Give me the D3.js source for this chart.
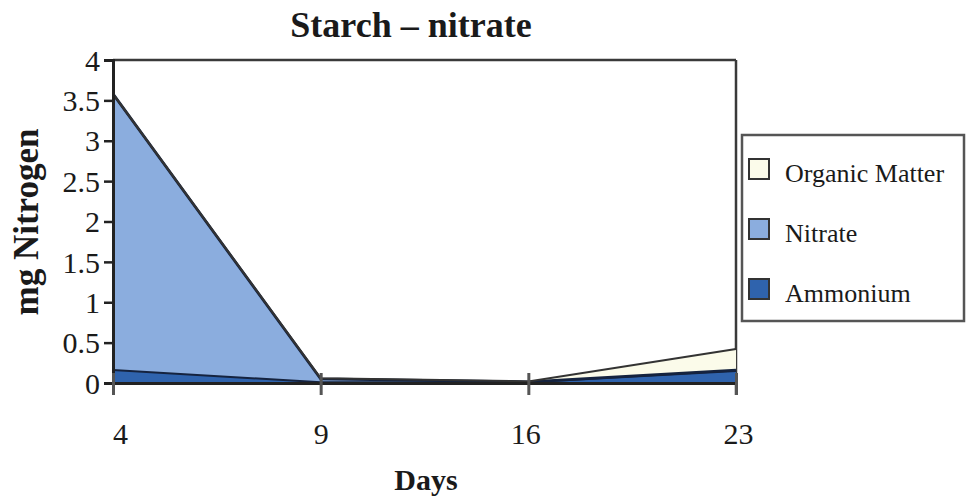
<!DOCTYPE html>
<html>
<head>
<meta charset="utf-8">
<script src="https://cdn.jsdelivr.net/npm/d3@7"></script>
<style>
  html, body { margin: 0; padding: 0; background: #fff; }
  svg { display: block; }
  text { font-family: "Liberation Serif", "Times New Roman", serif; fill: #1a1a1a; }
</style>
</head>
<body>
<svg id="chart" width="967" height="496"></svg>
<script>
// Sampling days and nitrogen pools (mg N), stacked bottom to top
const days = ["4", "9", "16", "23"];
const ammonium = [0.16, 0.01, 0.01, 0.15];
const nitrate = [3.42, 0.04, 0.005, 0.01];
const organicMatter = [0.0, 0.01, 0.005, 0.26];
const yTicks = [0, 0.5, 1, 1.5, 2, 2.5, 3, 3.5, 4];
const yTickLabels = ["0", "0.5", "1", "1.5", "2", "2.5", "3", "3.5", "4"];
const seriesNames = ["Ammonium", "Nitrate", "Organic Matter"];
const legendOrder = ["Organic Matter", "Nitrate", "Ammonium"];

const colors = {
  "Ammonium": "#2f63ad",
  "Nitrate": "#8badde",
  "Organic Matter": "#fbfbea"
};

const serif = '"Liberation Serif", "Times New Roman", serif';
const svg = d3.select("#chart");
const plotLeft = 113, plotRight = 736, plotTop = 60, plotBottom = 383;

const rows = days.map((d, i) => ({
  day: d,
  "Ammonium": ammonium[i],
  "Nitrate": nitrate[i],
  "Organic Matter": organicMatter[i]
}));

const x = d3.scalePoint().domain(days).range([plotLeft, plotRight]);
const y = d3.scaleLinear().domain([0, 4]).range([plotBottom, plotTop]);

const stacked = d3.stack().keys(seriesNames)(rows);

const area = d3.area()
  .x(d => x(d.data.day))
  .y0(d => y(d[0]))
  .y1(d => y(d[1]));
const topLine = d3.line()
  .x(d => x(d.data.day))
  .y(d => y(d[1]));

// frame: top and right edges
svg.append("line").attr("x1", plotLeft).attr("x2", plotRight).attr("y1", plotTop).attr("y2", plotTop)
  .attr("stroke", "#3a3a3a").attr("stroke-width", 2.5);
svg.append("line").attr("x1", plotRight).attr("x2", plotRight).attr("y1", plotTop).attr("y2", plotBottom + 12)
  .attr("stroke", "#3a3a3a").attr("stroke-width", 2.5);

// stacked areas
const g = svg.append("g");
g.selectAll("path.area").data(stacked).join("path")
  .attr("class", "area")
  .attr("d", area)
  .attr("fill", d => colors[d.key]);
g.selectAll("path.edge").data(stacked).join("path")
  .attr("class", "edge")
  .attr("d", topLine)
  .attr("fill", "none")
  .attr("stroke", d => d.key === "Organic Matter" ? "#333" : "#15233f")
  .attr("stroke-width", d => d.key === "Nitrate" ? 2.8 : 2);

// y axis
const yAxis = svg.append("g")
  .attr("transform", `translate(${plotLeft},0)`)
  .call(d3.axisLeft(y).tickValues(yTicks).tickFormat((d, i) => yTickLabels[i]).tickSize(9).tickPadding(4));
yAxis.attr("font-family", null).attr("font-size", null);
yAxis.select(".domain").attr("stroke", "#222").attr("stroke-width", 3);
yAxis.selectAll(".tick line").attr("stroke", "#222").attr("stroke-width", 2.5);
yAxis.selectAll(".tick text")
  .style("font-family", serif).style("font-size", "30px")
  .attr("fill", "#1a1a1a").attr("dy", "0.34em");

// x axis
const xAxis = svg.append("g")
  .attr("transform", `translate(0,${plotBottom})`)
  .call(d3.axisBottom(x).tickSize(0).tickPadding(40));
xAxis.attr("font-family", null).attr("font-size", null);
xAxis.select(".domain").attr("stroke", "#222").attr("stroke-width", 3);
xAxis.selectAll(".tick text")
  .style("font-family", serif).style("font-size", "30px")
  .attr("fill", "#1a1a1a")
  .attr("dx", (d, i) => [7, 0, -3, 2][i]);
xAxis.selectAll(".tick").append("line")
  .attr("y1", -10).attr("y2", 12)
  .attr("stroke", "#555").attr("stroke-width", 3);

// titles
svg.append("text").attr("x", 411).attr("y", 37).attr("text-anchor", "middle")
  .style("font-family", serif).style("font-size", "36px").attr("font-weight", "bold").text("Starch – nitrate");
svg.append("text").attr("x", 426).attr("y", 490).attr("text-anchor", "middle")
  .style("font-family", serif).style("font-size", "30px").attr("font-weight", "bold").text("Days");
svg.append("text").attr("transform", "translate(38,222) rotate(-90)").attr("text-anchor", "middle")
  .style("font-family", serif).style("font-size", "35px").attr("font-weight", "bold").text("mg Nitrogen");

// legend
const lg = svg.append("g");
lg.append("rect").attr("x", 742).attr("y", 135).attr("width", 222).attr("height", 186)
  .attr("fill", "#fff").attr("stroke", "#555").attr("stroke-width", 2.5);
legendOrder.forEach((name, i) => {
  const cy = 169 + i * 60;
  lg.append("rect").attr("x", 749).attr("y", cy - 10).attr("width", 20).attr("height", 20)
    .attr("fill", colors[name]).attr("stroke", "#333").attr("stroke-width", 2);
  lg.append("text").attr("x", 785).attr("y", cy + 13)
    .style("font-family", serif).style("font-size", "26px").text(name);
});
</script>
</body>
</html>
